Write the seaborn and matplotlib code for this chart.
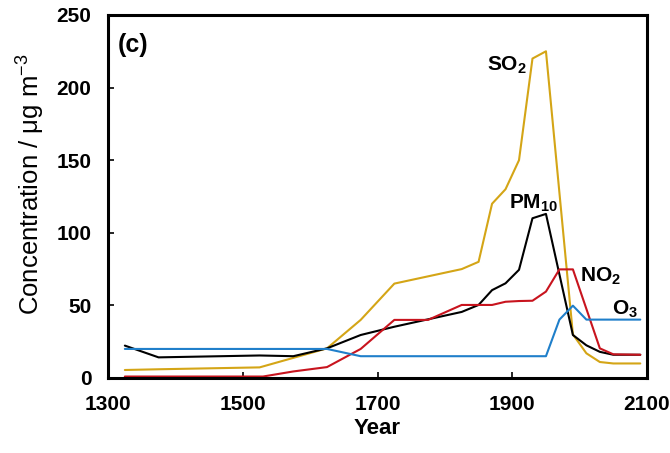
import matplotlib
matplotlib.use("Agg")
import matplotlib.pyplot as plt
import seaborn as sns
import pandas as pd

# ---- data ----
so2_years = [1325, 1375, 1525, 1625, 1675, 1725, 1825, 1850, 1870, 1890, 1910, 1930, 1950, 1990, 2010, 2030, 2050, 2090]
so2_vals = [5.5, 6, 7.3, 20.4, 40, 65, 75, 80, 120, 130, 150, 220, 225, 30, 17, 11, 10, 10]

pm10_years = [1325, 1375, 1525, 1575, 1625, 1675, 1725, 1825, 1850, 1870, 1890, 1910, 1930, 1950, 1990, 2010, 2030, 2050, 2090]
pm10_vals = [22.3, 14.2, 15.5, 15, 20.4, 29.6, 35.3, 45.5, 50.3, 60.5, 65.2, 74.5, 110, 113, 29.6, 22.5, 18, 16, 16]

no2_years = [1325, 1530, 1575, 1625, 1675, 1725, 1775, 1825, 1870, 1890, 1910, 1930, 1950, 1970, 1990, 2030, 2050, 2090]
no2_vals = [1, 1, 4.5, 7.5, 20, 40, 40, 50.3, 50.3, 52.5, 53, 53.2, 59.5, 74.8, 74.8, 20.4, 16.3, 16]

o3_years = [1325, 1625, 1675, 1950, 1970, 1990, 2010, 2090]
o3_vals = [20, 20, 15, 15, 40.2, 49.8, 40.2, 40.2]

series_names = ["SO2", "PM10", "NO2", "O3"]
colors = {"SO2": "#D4A516", "PM10": "#000000", "NO2": "#C8141E", "O3": "#1F7FCA"}

x_ticks = [1300, 1500, 1700, 1900, 2100]
y_ticks = [0, 50, 100, 150, 200, 250]

frames = []
for name, yrs, vals in [("SO2", so2_years, so2_vals), ("PM10", pm10_years, pm10_vals),
                        ("NO2", no2_years, no2_vals), ("O3", o3_years, o3_vals)]:
    frames.append(pd.DataFrame({"Year": yrs, "Conc": vals, "Pollutant": name}))
df = pd.concat(frames, ignore_index=True)

# ---- style ----
sns.set_style("ticks")
plt.rcParams["font.family"] = ["Liberation Sans", "DejaVu Sans"]
plt.rcParams["mathtext.fontset"] = "custom"
plt.rcParams["mathtext.rm"] = "Liberation Sans"
plt.rcParams["mathtext.bf"] = "Liberation Sans:bold"
plt.rcParams["mathtext.it"] = "Liberation Sans:italic"
plt.rcParams["text.color"] = "black"
plt.rcParams["axes.labelcolor"] = "black"
plt.rcParams["xtick.color"] = "black"
plt.rcParams["ytick.color"] = "black"

fig = plt.figure(figsize=(6.7, 4.53), dpi=100)
ax = fig.add_axes([0.1612, 0.1656, 0.9657 - 0.1612, 0.9669 - 0.1656])

sns.lineplot(data=df, x="Year", y="Conc", hue="Pollutant", hue_order=series_names,
             palette=colors, estimator=None, sort=False, linewidth=1.5, ax=ax, legend=False)

ax.set_xlim(1300, 2100)
ax.set_ylim(0, 250)
ax.set_xticks(x_ticks)
ax.set_yticks(y_ticks)
ax.set_xticklabels([str(v) for v in x_ticks], fontsize=15, fontweight="bold")
ax.set_yticklabels([str(v) for v in y_ticks], fontsize=15, fontweight="bold")
ax.tick_params(direction="in", length=4, width=1.2, color="black", labelcolor="black")
ax.tick_params(axis="y", pad=12)
ax.tick_params(axis="x", pad=12)
for s in ax.spines.values():
    s.set_linewidth(2.2)
    s.set_color("black")
    s.set_visible(True)

ax.set_xlabel("Year", fontsize=16, fontweight="bold", labelpad=3, color="black")
ax.set_ylabel(r"Concentration / μg m$^{\mathrm{-3}}$", fontsize=18.5, color="black")
ax.yaxis.set_label_coords(-0.114, 0.534)

ax.text(0.018, 0.95, "(c)", transform=ax.transAxes, fontsize=18, fontweight="bold",
        ha="left", va="top", color="black")

lab_kw = dict(fontsize=15, fontweight="bold", color="black")
ax.text(1922, 215.5, r"SO$_\mathbf{2}$", ha="right", va="center", **lab_kw)
ax.text(1932, 120.5, r"PM$_\mathbf{10}$", ha="center", va="center", **lab_kw)
ax.text(2031, 70, r"NO$_\mathbf{2}$", ha="center", va="center", **lab_kw)
ax.text(2067, 47, r"O$_\mathbf{3}$", ha="center", va="center", **lab_kw)

fig.savefig("out.png", dpi=100)
